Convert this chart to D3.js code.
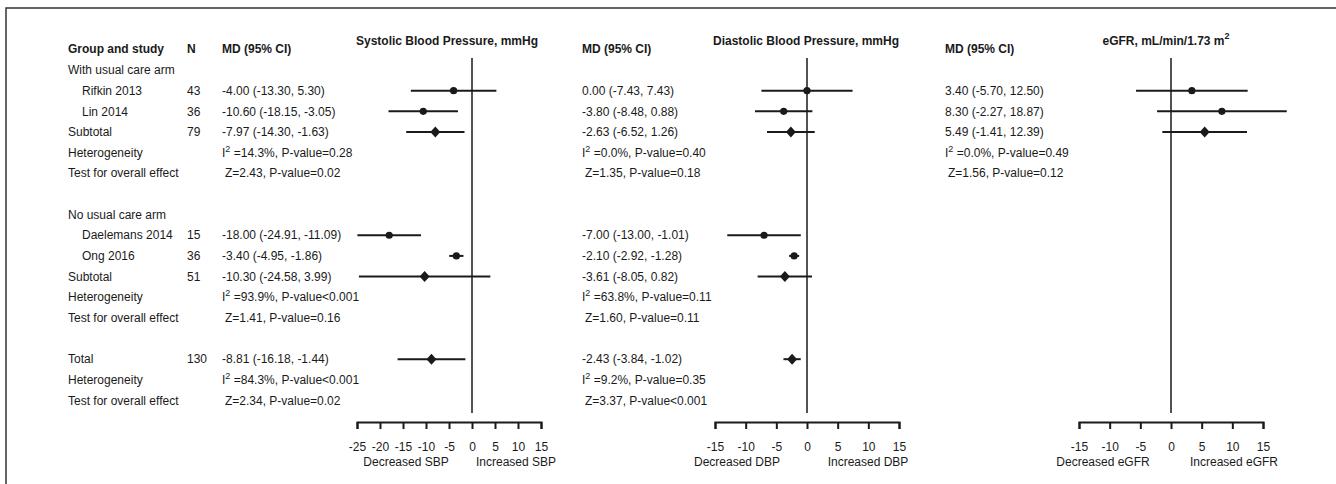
<!DOCTYPE html>
<html>
<head>
<meta charset="utf-8">
<script src="https://cdn.jsdelivr.net/npm/d3@7"></script>
<style>
  body { margin: 0; background: #fff; }
  svg { display: block; font-family: "Liberation Sans", Arial, sans-serif; }
  .axis text { font-size: 12px; fill: #1a1a1a; }
  .axis path, .axis line { stroke: #1a1a1a; stroke-width: 2; }
</style>
</head>
<body>
<div id="chart"></div>
<script>
var width = 1336, height = 484;

// table rows
var rowLabels = ["With usual care arm", "Rifkin 2013", "Lin 2014", "Subtotal", "Heterogeneity", "Test for overall effect", "",
                 "No usual care arm", "Daelemans 2014", "Ong 2016", "Subtotal", "Heterogeneity", "Test for overall effect", "",
                 "Total", "Heterogeneity", "Test for overall effect"];
var rowIndent = [0,1,1,0,0,0,0, 0,1,1,0,0,0,0, 0,0,0];
var nValues = ["", "43", "36", "79", "", "", "", "", "15", "36", "51", "", "", "", "130", "", ""];

// rows of estimates, heterogeneity and overall effect lines
var estRows = [1, 2, 3, 8, 9, 10, 14];
var estPooled = [false, false, true, false, false, true, true];
var hetRows = [4, 11, 15];
var zRows = [5, 12, 16];

// Systolic blood pressure
var sbpEst = [-4.00, -10.60, -7.97, -18.00, -3.40, -10.30, -8.81];
var sbpLow = [-13.30, -18.15, -14.30, -24.91, -4.95, -24.58, -16.18];
var sbpHigh = [5.30, -3.05, -1.63, -11.09, -1.86, 3.99, -1.44];
var sbpHet = ["14.3%, P-value=0.28", "93.9%, P-value<0.001", "84.3%, P-value<0.001"];
var sbpZ = ["Z=2.43, P-value=0.02", "Z=1.41, P-value=0.16", "Z=2.34, P-value=0.02"];

// Diastolic blood pressure
var dbpEst = [0.00, -3.80, -2.63, -7.00, -2.10, -3.61, -2.43];
var dbpLow = [-7.43, -8.48, -6.52, -13.00, -2.92, -8.05, -3.84];
var dbpHigh = [7.43, 0.88, 1.26, -1.01, -1.28, 0.82, -1.02];
var dbpHet = ["0.0%, P-value=0.40", "63.8%, P-value=0.11", "9.2%, P-value=0.35"];
var dbpZ = ["Z=1.35, P-value=0.18", "Z=1.60, P-value=0.11", "Z=3.37, P-value<0.001"];

// eGFR
var egfrEst = [3.40, 8.30, 5.49];
var egfrLow = [-5.70, -2.27, -1.41];
var egfrHigh = [12.50, 18.87, 12.39];
var egfrHet = ["0.0%, P-value=0.49"];
var egfrZ = ["Z=1.56, P-value=0.12"];

var sbpTicks = [-25, -20, -15, -10, -5, 0, 5, 10, 15];
var dbpTicks = [-15, -10, -5, 0, 5, 10, 15];
var egfrTicks = [-15, -10, -5, 0, 5, 10, 15];

var panels = [
  { title: "Systolic Blood Pressure, mmHg", titleX: 447, est: sbpEst, low: sbpLow, high: sbpHigh, het: sbpHet, z: sbpZ,
    ticks: sbpTicks, range: [357, 541], textX: 222, left: "Decreased SBP", right: "Increased SBP", leftX: 406, rightX: 516, header: false },
  { title: "Diastolic Blood Pressure, mmHg", titleX: 806, est: dbpEst, low: dbpLow, high: dbpHigh, het: dbpHet, z: dbpZ,
    ticks: dbpTicks, range: [715, 899], textX: 582, left: "Decreased DBP", right: "Increased DBP", leftX: 737, rightX: 868, header: true },
  { title: "eGFR, mL/min/1.73 m", sup: "2", titleX: 1166, est: egfrEst, low: egfrLow, high: egfrHigh, het: egfrHet, z: egfrZ,
    ticks: egfrTicks, range: [1079, 1263], textX: 945, left: "Decreased eGFR", right: "Increased eGFR", leftX: 1103, rightX: 1234, header: true }
];

var ink = "#1a1a1a";
// plain hyphen as minus sign, like the original
var locale = d3.formatLocale({ decimal: ".", thousands: ",", grouping: [3], currency: ["", ""], minus: "-" });
var fmt = locale.format(".2f");
var tickFmt = locale.format("d");

var y = d3.scaleLinear().domain([0, 16]).range([70, 400.5]);

var svg = d3.select("#chart").append("svg")
    .attr("width", width)
    .attr("height", height);

// frame
svg.append("rect")
    .attr("x", 6).attr("y", 8)
    .attr("width", width).attr("height", height)
    .attr("fill", "none").attr("stroke", "#333").attr("stroke-width", 1.5);

function txt(x, yy, s, bold) {
  return svg.append("text")
    .attr("x", x).attr("y", yy).attr("dy", "0.35em")
    .attr("font-size", 12)
    .attr("font-weight", bold ? "bold" : null)
    .attr("fill", ink)
    .text(s);
}

function hetText(x, yy, s) {
  var t = svg.append("text")
    .attr("x", x).attr("y", yy).attr("dy", "0.35em")
    .attr("font-size", 12).attr("fill", ink);
  t.append("tspan").text("I");
  t.append("tspan").attr("dy", -5).attr("font-size", 9).text("2");
  t.append("tspan").attr("dy", 5).text(" =" + s);
}

// headers
txt(68, 49, "Group and study", true);
txt(187, 49, "N", true);
txt(222, 49, "MD (95% CI)", true);

// labels and N
rowLabels.forEach(function(s, i) {
  if (!s) return;
  txt(rowIndent[i] ? 82 : 68, y(i), s);
  if (nValues[i]) txt(187, y(i), nValues[i]);
});

panels.forEach(function(p) {
  var x = d3.scaleLinear().domain([p.ticks[0], p.ticks[p.ticks.length - 1]]).range(p.range);

  if (p.header) txt(p.textX, 49, "MD (95% CI)", true);

  var cx = x(0);
  var title = svg.append("text")
    .attr("x", p.titleX).attr("y", 41).attr("dy", "0.35em")
    .attr("text-anchor", "middle")
    .attr("font-size", 12).attr("font-weight", "bold").attr("fill", ink)
    .text(p.title);
  if (p.sup) title.append("tspan").attr("dy", -6).attr("font-size", 9).text(p.sup);

  // estimates text
  p.est.forEach(function(e, i) {
    txt(p.textX, y(estRows[i]), fmt(e) + " (" + fmt(p.low[i]) + ", " + fmt(p.high[i]) + ")");
  });
  p.het.forEach(function(s, i) { hetText(p.textX, y(hetRows[i]), s); });
  p.z.forEach(function(s, i) { txt(p.textX + 3, y(zRows[i]), s); });

  // zero line
  svg.append("line")
    .attr("x1", cx).attr("x2", cx)
    .attr("y1", 58).attr("y2", 413)
    .attr("stroke", ink).attr("stroke-width", 1.5);

  // CI lines
  var g = svg.append("g");
  g.selectAll(".ci")
    .data(p.est)
    .enter().append("line")
      .attr("class", "ci")
      .attr("x1", function(d, i) { return x(p.low[i]); })
      .attr("x2", function(d, i) { return x(p.high[i]); })
      .attr("y1", function(d, i) { return y(estRows[i]); })
      .attr("y2", function(d, i) { return y(estRows[i]); })
      .attr("stroke", ink).attr("stroke-width", 2);

  g.selectAll(".pt")
    .data(p.est.map(function(d, i) { return { v: d, i: i }; }).filter(function(d) { return !estPooled[d.i]; }))
    .enter().append("circle")
      .attr("cx", function(d) { return x(d.v); })
      .attr("cy", function(d) { return y(estRows[d.i]); })
      .attr("r", 3.6)
      .attr("fill", ink);

  g.selectAll(".dm")
    .data(p.est.map(function(d, i) { return { v: d, i: i }; }).filter(function(d) { return estPooled[d.i]; }))
    .enter().append("path")
      .attr("d", function(d) {
        var px = x(d.v), py = y(estRows[d.i]);
        return "M" + (px - 5) + "," + py + "L" + px + "," + (py - 5.5) + "L" + (px + 5) + "," + py + "L" + px + "," + (py + 5.5) + "Z";
      })
      .attr("fill", ink);

  // axis
  svg.append("g")
    .attr("class", "axis")
    .attr("transform", "translate(0,422)")
    .call(d3.axisBottom(x).tickValues(p.ticks).tickSize(7).tickPadding(13).tickFormat(tickFmt))
    .call(function(a) { a.selectAll("text").attr("font-family", null).attr("font-size", 12); });

  txt(p.leftX, 462, p.left).attr("text-anchor", "middle");
  txt(p.rightX, 462, p.right).attr("text-anchor", "middle");
});
</script>
</body>
</html>
